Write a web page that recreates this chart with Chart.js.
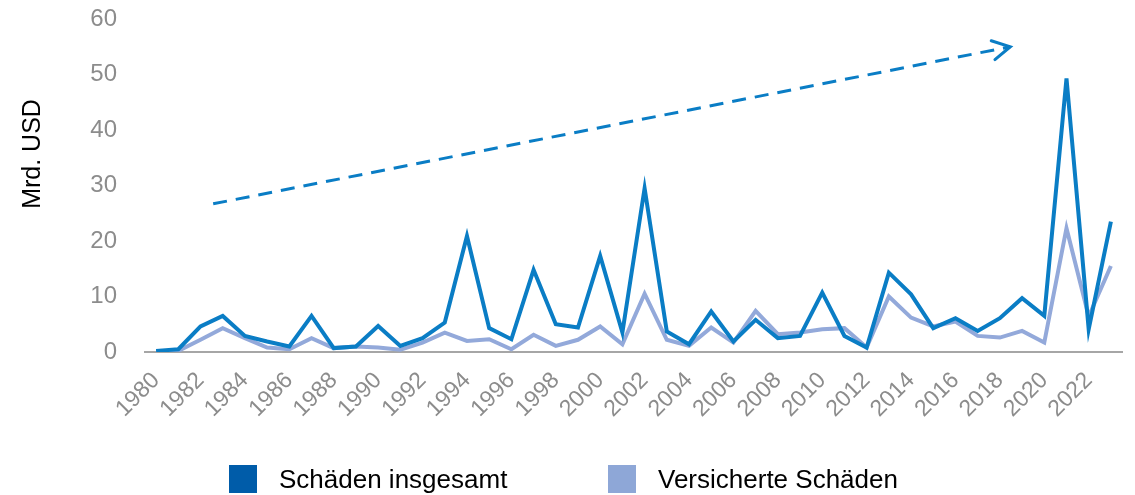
<!DOCTYPE html>
<html>
<head>
<meta charset="utf-8">
<script src="https://cdn.jsdelivr.net/npm/chart.js@4.4.1/dist/chart.umd.min.js"></script>
<style>
  body { margin: 0; background: #fff; }
  #wrap { position: relative; width: 1135px; height: 495px; font-family: "Liberation Sans", Arial, sans-serif; }
  #lossChart { position: absolute; left: 0; top: 0; }
  .legend-item { position: absolute; top: 465px; height: 28px; display: flex; align-items: center; }
  .legend-box { width: 28px; height: 28px; margin-right: 22px; }
  .legend-text { font-size: 26px; color: #000; line-height: 28px; }
</style>
</head>
<body>
<div id="wrap">
  <canvas id="lossChart" width="1135" height="495"></canvas>
  <div class="legend-item" style="left:229px"><div class="legend-box" style="background:#005CA9"></div><span class="legend-text">Schäden insgesamt</span></div>
  <div class="legend-item" style="left:608px"><div class="legend-box" style="background:#8EA7D7"></div><span class="legend-text">Versicherte Schäden</span></div>
</div>
<script>
const years = ["1980","1981","1982","1983","1984","1985","1986","1987","1988","1989",
               "1990","1991","1992","1993","1994","1995","1996","1997","1998","1999",
               "2000","2001","2002","2003","2004","2005","2006","2007","2008","2009",
               "2010","2011","2012","2013","2014","2015","2016","2017","2018","2019",
               "2020","2021","2022","2023"];

// Mrd. USD
const totalLosses = [0.2, 0.5, 4.6, 6.5, 2.9, 1.9, 1.0, 6.5, 0.7, 1.0,
                     4.7, 1.1, 2.5, 5.3, 20.9, 4.3, 2.3, 14.8, 5.0, 4.4,
                     17.3, 3.5, 29.5, 3.7, 1.4, 7.3, 1.9, 5.8, 2.5, 2.9,
                     10.7, 2.9, 0.8, 14.3, 10.4, 4.3, 6.1, 3.8, 6.1, 9.7,
                     6.5, 49.3, 4.1, 23.5];
const insuredLosses = [0.1, 0.2, 2.2, 4.3, 2.5, 0.8, 0.5, 2.5, 0.7, 1.0,
                       0.8, 0.4, 1.7, 3.5, 2.0, 2.3, 0.5, 3.1, 1.1, 2.2,
                       4.6, 1.4, 10.5, 2.2, 1.1, 4.4, 1.7, 7.4, 3.2, 3.5,
                       4.1, 4.3, 0.8, 10.0, 6.2, 4.6, 5.5, 2.9, 2.6, 3.8,
                       1.7, 22.3, 6.4, 15.5];

const yTicks = [0, 10, 20, 30, 40, 50, 60];

// trend arrow: start / end as (category index, value)
const trendIndex = [2.57, 38.47];
const trendValue = [26.7, 55.0];

const darkBlue = "#0A7DC5";
const lightBlue = "#93A9DA";

// dashed trend arrow + y axis title
const extras = {
    id: "extras",
    afterDatasetsDraw(chart) {
        const ctx = chart.ctx;
        const x = chart.scales.x, y = chart.scales.y;
        const x0 = x.getPixelForValue(trendIndex[0]), y0 = y.getPixelForValue(trendValue[0]);
        const x1 = x.getPixelForValue(trendIndex[1]), y1 = y.getPixelForValue(trendValue[1]);
        ctx.save();
        ctx.strokeStyle = darkBlue;
        ctx.lineWidth = 3;
        ctx.setLineDash([14, 9]);
        ctx.beginPath();
        ctx.moveTo(x0, y0);
        ctx.lineTo(x1, y1);
        ctx.stroke();
        // arrow head
        const ang = Math.atan2(y1 - y0, x1 - x0);
        const len = 20;
        ctx.setLineDash([]);
        ctx.lineCap = "round";
        ctx.beginPath();
        ctx.moveTo(x1 - len * Math.cos(ang - 0.5), y1 - len * Math.sin(ang - 0.5));
        ctx.lineTo(x1, y1);
        ctx.lineTo(x1 - len * Math.cos(ang + 0.5), y1 - len * Math.sin(ang + 0.5));
        ctx.stroke();

        ctx.translate(33, 154);
        ctx.rotate(-Math.PI / 2);
        ctx.fillStyle = "#000";
        ctx.font = '25px "Liberation Sans", Arial, sans-serif';
        ctx.textAlign = "center";
        ctx.textBaseline = "middle";
        ctx.fillText("Mrd. USD", 0, 0);
        ctx.restore();
    }
};

new Chart(document.getElementById("lossChart"), {
    type: "line",
    data: {
        labels: years,
        datasets: [{
            label: "Schäden insgesamt",
            data: totalLosses,
            borderColor: darkBlue,
            borderWidth: 4,
            pointRadius: 0,
            tension: 0
        }, {
            label: "Versicherte Schäden",
            data: insuredLosses,
            borderColor: lightBlue,
            borderWidth: 4,
            pointRadius: 0,
            tension: 0
        }]
    },
    options: {
        responsive: false,
        animation: false,
        layout: { padding: { top: 0, right: 13, left: 0, bottom: 0 } },
        plugins: {
            legend: { display: false },
            tooltip: { enabled: false }
        },
        scales: {
            x: {
                offset: true,
                grid: { display: false, drawTicks: false },
                border: { display: true, color: "#A6A6A6", width: 2 },
                ticks: {
                    color: "#8C8C8C",
                    font: { family: '"Liberation Sans", Arial, sans-serif', size: 23 },
                    minRotation: 45,
                    maxRotation: 45,
                    autoSkip: false,
                    padding: 15,
                    callback: function (v, i) { return i % 2 === 0 ? years[i] : ""; }
                },
                afterFit: function (s) {
                    s.height = 143;
                    s.paddingLeft = 0;
                    s.paddingRight = 0;
                }
            },
            y: {
                min: 0,
                max: 60,
                grid: { display: false, drawTicks: false },
                border: { display: false },
                afterBuildTicks: function (s) { s.ticks = yTicks.map(v => ({ value: v })); },
                ticks: {
                    color: "#8C8C8C",
                    font: { family: '"Liberation Sans", Arial, sans-serif', size: 24 },
                    padding: 28
                },
                afterFit: function (s) {
                    s.width = 145;
                    s.paddingTop = 19;
                    s.paddingBottom = 0;
                }
            }
        }
    },
    plugins: [extras]
});
</script>
</body>
</html>
